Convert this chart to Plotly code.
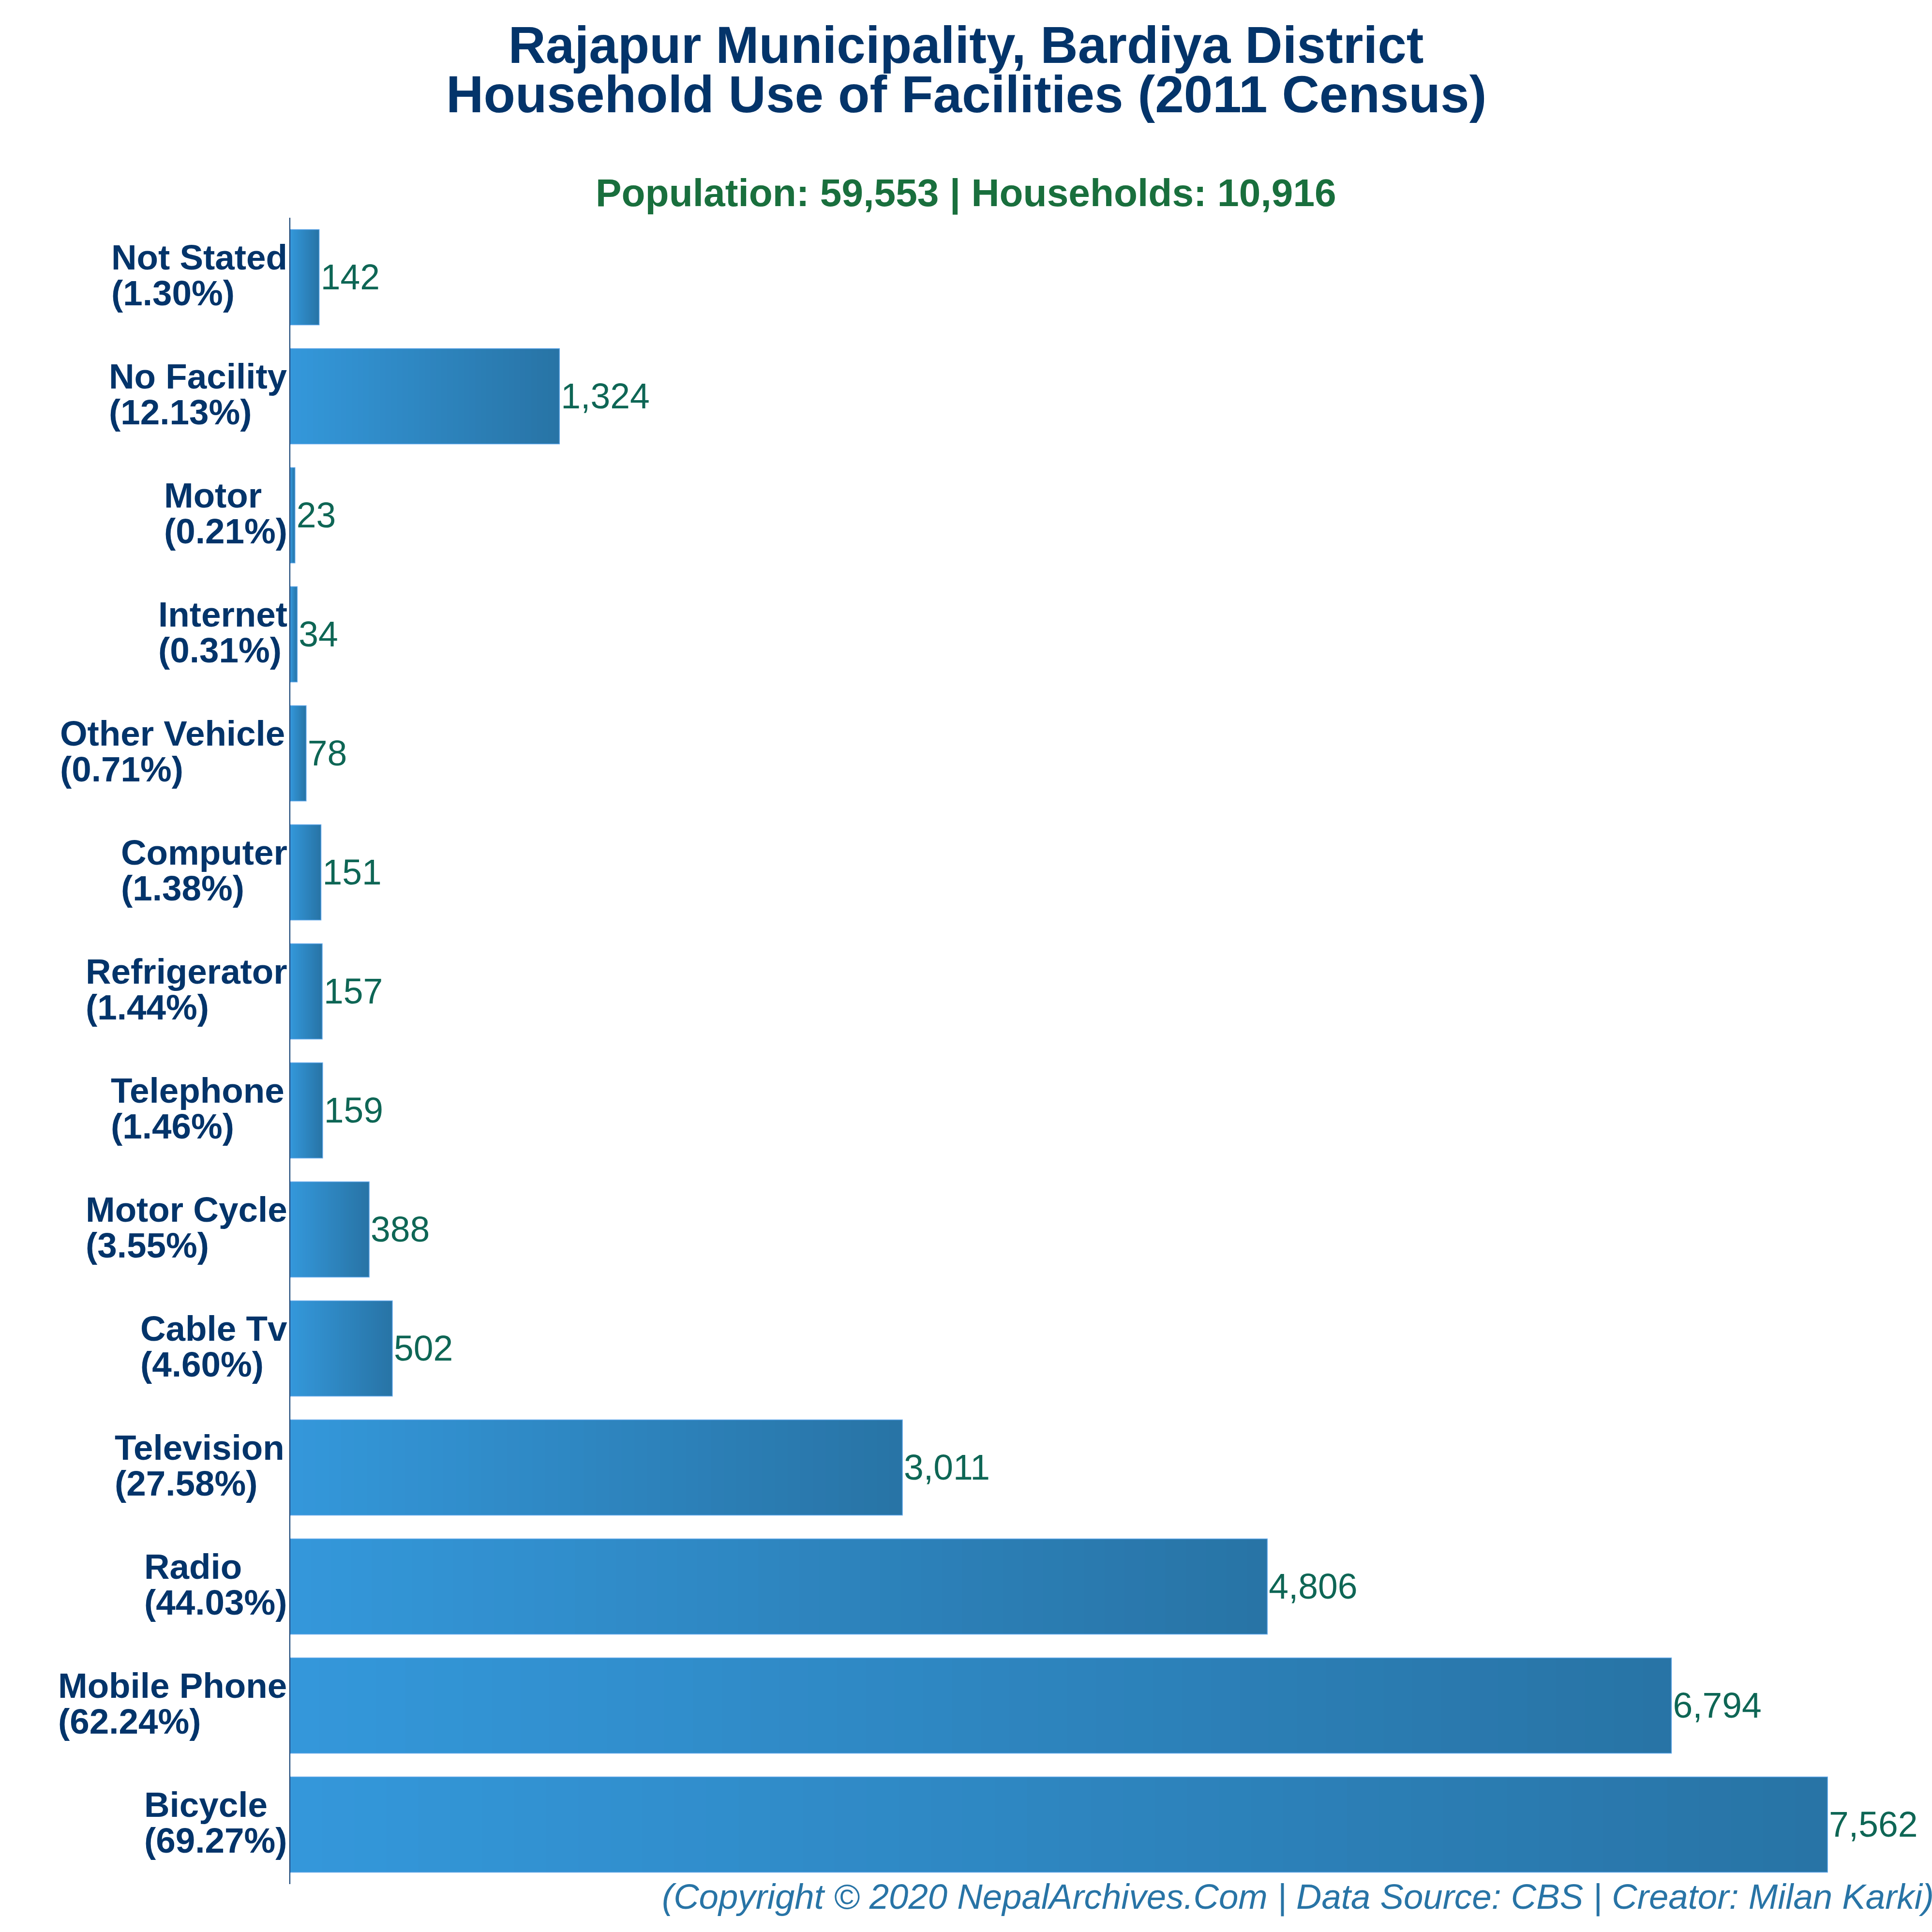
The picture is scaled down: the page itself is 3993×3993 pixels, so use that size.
import plotly.graph_objects as go

categories = ["Bicycle", "Mobile Phone", "Radio", "Television", "Cable Tv", "Motor Cycle", "Telephone",
              "Refrigerator", "Computer", "Other Vehicle", "Internet", "Motor", "No Facility", "Not Stated"]
households = [7562, 6794, 4806, 3011, 502, 388, 159, 157, 151, 78, 34, 23, 1324, 142]
percents = ["69.27", "62.24", "44.03", "27.58", "4.60", "3.55", "1.46", "1.44", "1.38", "0.71", "0.31", "0.21", "12.13", "1.30"]

W = H = 3993
L, T, B = 599.5, 450, 99.4
FONT = "Liberation Sans"
NAVY, GREEN, VALUE, FOOT = "#03346A", "#196F3D", "#0E6655", "#2874A6"
START, END = (0x34, 0x98, 0xDB), (0x28, 0x74, 0xA6)
STEPS = 48
LABEL_PX = 72.8

# Arial Bold advance widths (em), used to left-align the two-line category labels as a block
ADV = {"(": .333, ")": .333, "%": .889, ".": .278, " ": .278, "M": .833, "N": .722, "S": .667, "F": .611,
       "I": .278, "O": .778, "V": .667, "C": .722, "R": .722, "T": .611, "B": .722, "P": .667,
       "a": .556, "b": .611, "c": .556, "d": .611, "e": .556, "f": .333, "g": .611, "h": .611, "i": .278,
       "l": .278, "m": .889, "n": .611, "o": .611, "p": .611, "r": .389, "s": .556, "t": .333, "u": .611,
       "v": .556, "y": .556}
def text_px(s):
    return sum(ADV.get(c, .556) for c in s) * LABEL_PX

fig = go.Figure()
# Horizontal gradient: nested bars from full length (end colour) down to the start colour
for k in range(STEPS):
    f = 1 - k / STEPS
    rgb = tuple(round(a + (b - a) * f) for a, b in zip(START, END))
    fig.add_bar(y=categories, x=[v * f for v in households], orientation="h",
                marker_color="rgb(%d,%d,%d)" % rgb, marker_line_width=0,
                hoverinfo="skip", showlegend=False)
# Outline and value labels on top
fig.add_bar(y=categories, x=households, orientation="h", marker_color="rgba(0,0,0,0)",
            marker_line=dict(color="#5DA5E8", width=1.5), hoverinfo="skip", showlegend=False,
            text=[f"{v:,}" for v in households], textposition="outside", cliponaxis=False,
            textfont=dict(family=FONT, size=73.3, color=VALUE), constraintext="none")

ann = []
for c, p in zip(categories, percents):
    pct = f"({p}%)"
    left = -(L - 591) - max(text_px(c), text_px(pct))
    for txt, dy in ((c, 41.5), (pct, -32.5)):
        ann.append(dict(text=f"<b>{txt}</b>", x=0, xref="x", y=c, yref="y", xanchor="left", yanchor="middle",
                        xshift=left, yshift=dy, showarrow=False, align="left",
                        font=dict(family=FONT, size=LABEL_PX, color=NAVY)))
ann += [
    dict(text="<b>Household Use of Facilities (2011 Census)</b>", x=0.5, xref="paper", xshift=-L / 2,
         y=(H - B - 195) / (H - T - B), yref="paper",
         showarrow=False, xanchor="center", yanchor="middle", font=dict(family=FONT, size=107.2, color=NAVY)),
    dict(text="<b>Population: 59,553 | Households: 10,916</b>", x=0.5, xref="paper", xshift=-L / 2, y=1, yref="paper", yshift=52,
         showarrow=False, xanchor="center", yanchor="middle", font=dict(family=FONT, size=80.3, color=GREEN)),
    dict(text="<i>(Copyright © 2020 NepalArchives.Com | Data Source: CBS | Creator: Milan Karki)</i>", x=0, xref="x", y=0, yref="paper",
         xshift=1365 - L, yshift=17, showarrow=False, xanchor="left", yanchor="top", font=dict(family=FONT, size=72.6, color=FOOT)),
]

fig.update_layout(
    width=W, height=H, autosize=False, barmode="overlay", bargap=0.2,
    paper_bgcolor="white", plot_bgcolor="white", margin=dict(l=L, r=0, t=T, b=B, autoexpand=False),
    title=dict(text="<b>Rajapur Municipality, Bardiya District</b>", x=0.5, xanchor="center", y=1 - 92 / H, yanchor="middle",
               font=dict(family=FONT, size=107.2, color=NAVY)),
    xaxis=dict(visible=False, range=[0, (W - L) / 0.4202]),
    yaxis=dict(type="category", categoryorder="array", categoryarray=categories, range=[-0.5, 13.5],
               showticklabels=False, ticks="", showgrid=False, zeroline=False,
               showline=True, linecolor="#03346A", linewidth=2),
    annotations=ann,
)
fig.write_html("out.html", config={"displayModeBar": False}, post_script="document.body.style.margin='0';")
